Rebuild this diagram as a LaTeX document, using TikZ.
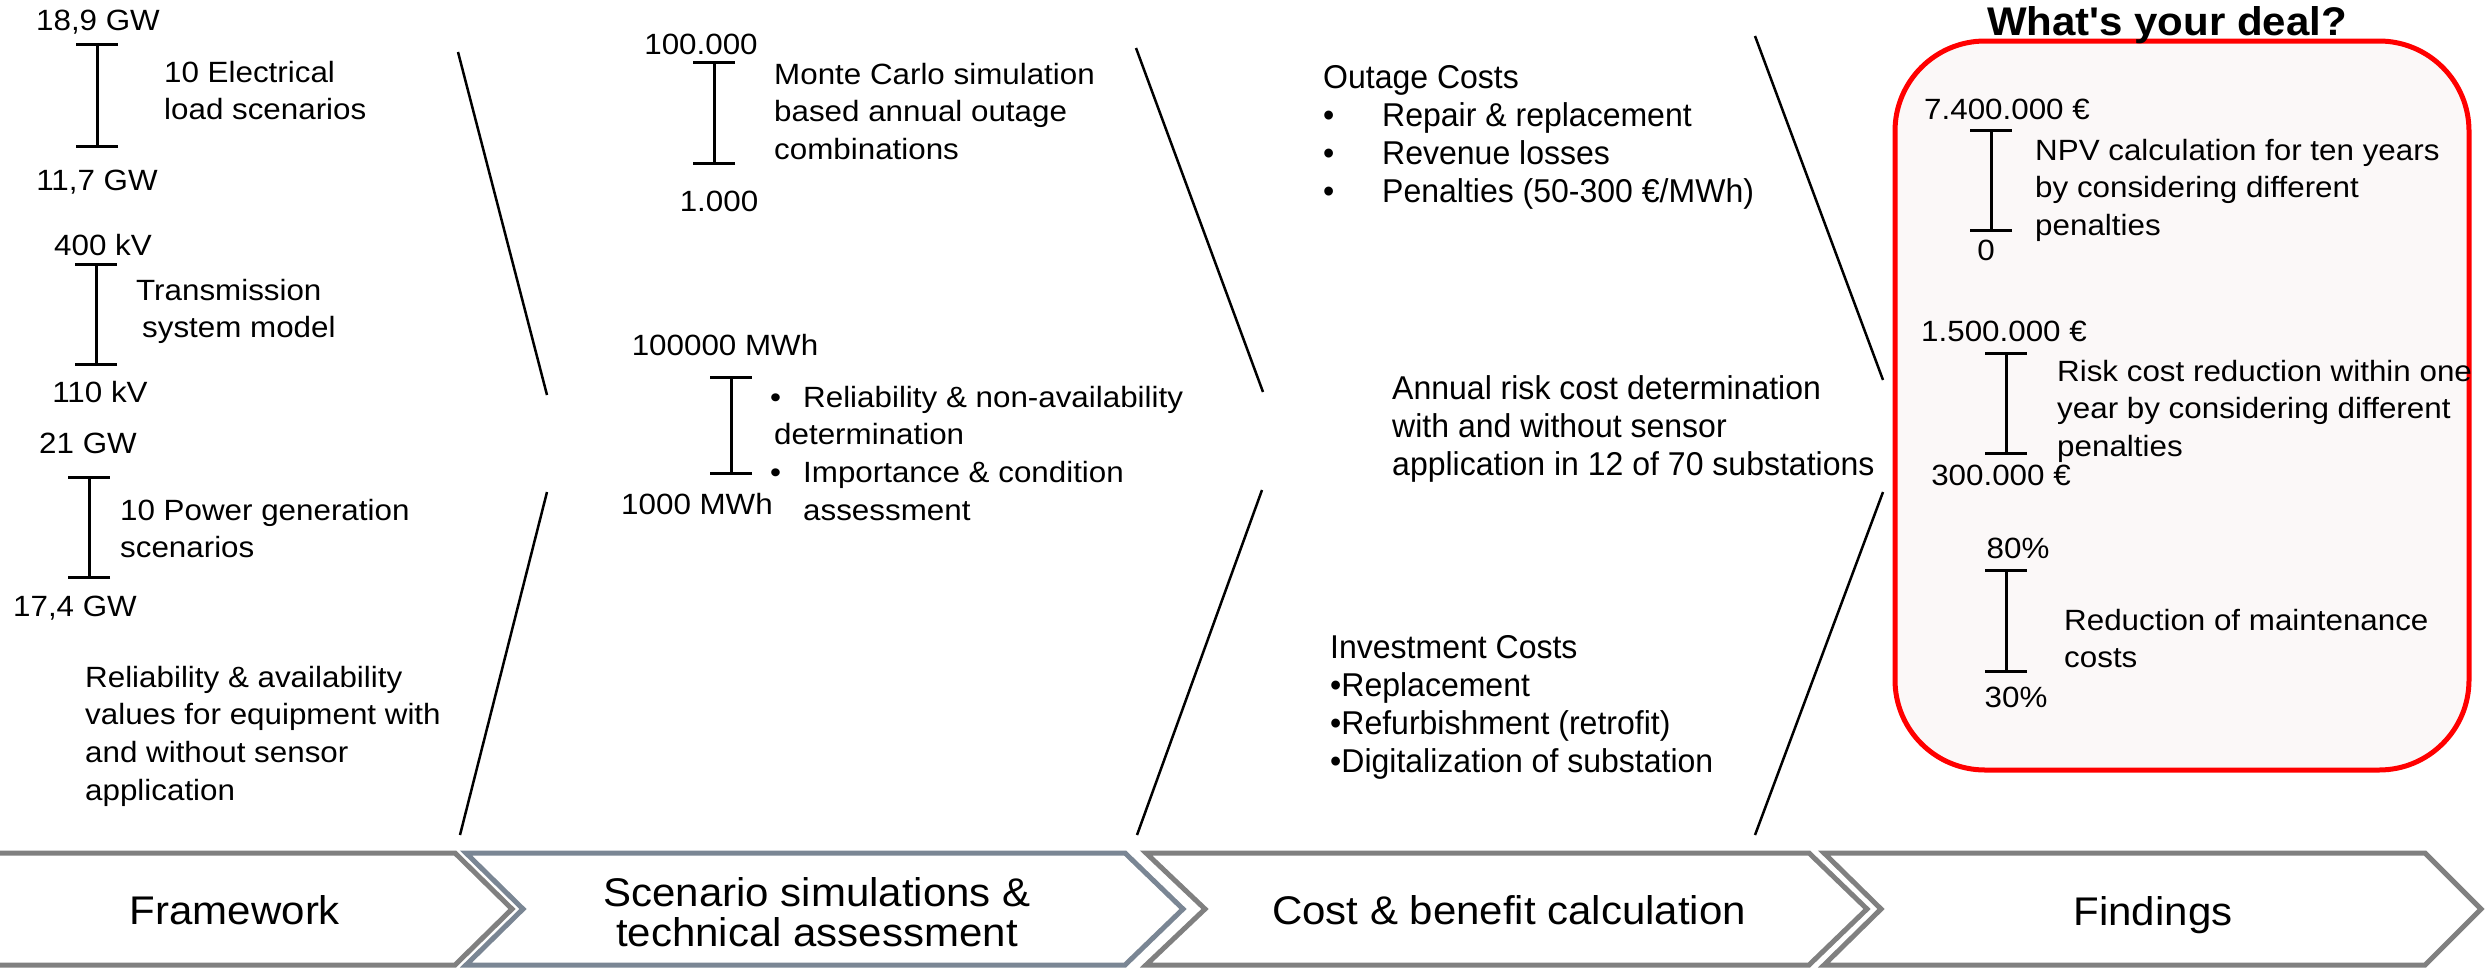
\documentclass[tikz,border=0pt]{standalone}
\usepackage{fontspec}
\setmainfont{Liberation Sans}
\newfontfamily\bodyfont[FakeStretch=1.07]{Liberation Sans}
\newfontfamily\costfont[FakeStretch=0.97]{Liberation Sans}
\newfontfamily\stagefont[FakeStretch=1.05]{Liberation Sans}
\usetikzlibrary{arrows.meta}
\definecolor{stagegray}{RGB}{128,128,128}
\definecolor{stageslate}{RGB}{122,134,148}
\definecolor{dealred}{RGB}{255,0,0}
\definecolor{dealfill}{RGB}{251,248,248}
\newcommand{\txtlines}[1]{\begin{tabular}[t]{@{}l@{}}#1\end{tabular}}
\begin{document}
\begin{tikzpicture}[x=1pt,y=-1pt,
  lbl/.style={inner sep=0pt, font=\bodyfont\fontsize{29.3}{37.7}\selectfont},
  rangelbl/.style={lbl, anchor=base},
  textblock/.style={lbl, anchor=base west},
  costtext/.style={inner sep=0pt, anchor=base west, font=\costfont\fontsize{33}{38}\selectfont},
  rangebar/.style={line width=3pt, {Bar[width=42pt]}-{Bar[width=42pt]}},
  divline/.style={line width=2.5pt},
  stageframe/.style={line width=5pt, fill=white, line join=miter},
  stagelbl/.style={inner sep=0pt, anchor=base, font=\stagefont\fontsize{40}{40}\selectfont},
  dealbox/.style={draw=dealred, line width=5pt, fill=dealfill, rounded corners=90pt,
    minimum width=574pt, minimum height=729pt, inner sep=0pt},
]
\useasboundingbox (0,0) rectangle (2486,967);

% process stages along the bottom
\draw[stageframe, draw=stagegray] (0,853) -- (455,853) -- (512,909) -- (455,965) -- (0,965);
\draw[stageframe, draw=stageslate] (466,853) -- (1125,853) -- (1183,909) -- (1125,965) -- (466,965) -- (523,909) -- cycle;
\draw[stageframe, draw=stagegray] (1146,853) -- (1809,853) -- (1867,909) -- (1809,965) -- (1146,965) -- (1205,909) -- cycle;
\draw[stageframe, draw=stagegray] (1824,853) -- (2425,853) -- (2481,909) -- (2425,965) -- (1824,965) -- (1881,909) -- cycle;

\node[stagelbl] (sFramework) at (235,924) {Framework};
\node[stagelbl] (sScenario) at (817,906) {\begin{tabular}[t]{@{}c@{}}Scenario simulations \&\\technical assessment\end{tabular}};
\node[stagelbl] (sCost) at (1509,924) {Cost \& benefit calculation};
\node[stagelbl] (sFindings) at (2153,925) {Findings};

% findings panel
\node[dealbox] (deal) at (2182,405.5) {};
\node[stagelbl, font=\stagefont\bfseries\fontsize{40}{40}\selectfont] (title) at (2167,35) {What{\char"27}s your deal?};

% column separators
\coordinate (a1s) at (458,52);   \coordinate (a1e) at (547,395);
\coordinate (a2s) at (547,492);  \coordinate (a2e) at (460,835);
\coordinate (b1s) at (1136,48);  \coordinate (b1e) at (1263,392);
\coordinate (b2s) at (1262,490); \coordinate (b2e) at (1137,835);
\coordinate (c1s) at (1755,36);  \coordinate (c1e) at (1883,380);
\coordinate (c2s) at (1883,492); \coordinate (c2e) at (1755,835);
\draw[divline] (a1s) -- (a1e);
\draw[divline] (a2s) -- (a2e);
\draw[divline] (b1s) -- (b1e);
\draw[divline] (b2s) -- (b2e);
\draw[divline] (c1s) -- (c1e);
\draw[divline] (c2s) -- (c2e);

% range bars
\coordinate (r1t) at (97,43);    \coordinate (r1b) at (97,148);
\coordinate (r2t) at (96,263);   \coordinate (r2b) at (96,366);
\coordinate (r3t) at (89,476);   \coordinate (r3b) at (89,579);
\coordinate (r4t) at (714,61);   \coordinate (r4b) at (714,165);
\coordinate (r5t) at (731,376);  \coordinate (r5b) at (731,475);
\coordinate (r6t) at (1991,129); \coordinate (r6b) at (1991,232);
\coordinate (r7t) at (2006,352); \coordinate (r7b) at (2006,455);
\coordinate (r8t) at (2006,569); \coordinate (r8b) at (2006,673);
\draw[rangebar] (r1t) -- (r1b);
\draw[rangebar] (r2t) -- (r2b);
\draw[rangebar] (r3t) -- (r3b);
\draw[rangebar] (r4t) -- (r4b);
\draw[rangebar] (r5t) -- (r5b);
\draw[rangebar] (r6t) -- (r6b);
\draw[rangebar] (r7t) -- (r7b);
\draw[rangebar] (r8t) -- (r8b);

% framework column
\node[rangelbl] (loadmax) at (98,30) {18,9 GW};
\node[rangelbl] (loadmin) at (97,190) {11,7 GW};
\node[textblock] (loadtxt) at (164,82) {\txtlines{10 Electrical\\load scenarios}};
\node[rangelbl] (vmax) at (103,255) {400 kV};
\node[rangelbl] (vmin) at (100,402) {110 kV};
\node[textblock] (gridtxt) at (136,300) {\txtlines{Transmission\\\hspace*{6pt}system model}};
\node[rangelbl] (genmax) at (88,453) {21 GW};
\node[rangelbl] (genmin) at (75,616) {17,4 GW};
\node[textblock] (gentxt) at (120,520) {\txtlines{10 Power generation\\scenarios}};
\node[textblock] (reltxt) at (85,687) {\txtlines{Reliability \& availability\\values for equipment with\\and without sensor\\application}};

% simulation column
\node[rangelbl] (mcmax) at (701,54) {100.000};
\node[rangelbl] (mcmin) at (719,211) {1.000};
\node[textblock] (mctxt) at (774,84) {\txtlines{Monte Carlo simulation\\based annual outage\\combinations}};
\node[rangelbl] (ensmax) at (725,355) {100000 MWh};
\node[rangelbl] (ensmin) at (697,514) {1000 MWh};
\node[textblock] (asstxt) at (770,407) {\txtlines{\makebox[33pt][l]{•}Reliability \& non-availability\\\hspace*{4pt}determination\\\makebox[33pt][l]{•}Importance \& condition\\\hspace*{33pt}assessment}};

% cost column
\node[costtext] (outage) at (1323,88) {\txtlines{Outage Costs\\\makebox[59pt][l]{•}Repair \& replacement\\\makebox[59pt][l]{•}Revenue losses\\\makebox[59pt][l]{•}Penalties (50-300 €/MWh)}};
\node[costtext] (risk) at (1392,399) {\txtlines{Annual risk cost determination\\with and without sensor\\application in 12 of 70 substations}};
\node[costtext] (invest) at (1330,658) {\txtlines{Investment Costs\\•Replacement\\•Refurbishment (retrofit)\\•Digitalization of substation}};

% findings column
\node[rangelbl] (npvmax) at (2007,119) {7.400.000 €};
\node[rangelbl] (npvmin) at (1986,260) {0};
\node[textblock] (npvtxt) at (2035,160) {\txtlines{NPV calculation for ten years\\by considering different\\penalties}};
\node[rangelbl] (riskmax) at (2004,341) {1.500.000 €};
\node[rangelbl] (riskmin) at (2001,485) {300.000 €};
\node[textblock] (risktxt) at (2057,381) {\txtlines{Risk cost reduction within one\\year by considering different\\penalties}};
\node[rangelbl] (mntmax) at (2018,558) {80\%};
\node[rangelbl] (mntmin) at (2016,707) {30\%};
\node[textblock] (mnttxt) at (2064,630) {\txtlines{Reduction of maintenance\\costs}};
\end{tikzpicture}
\end{document}
